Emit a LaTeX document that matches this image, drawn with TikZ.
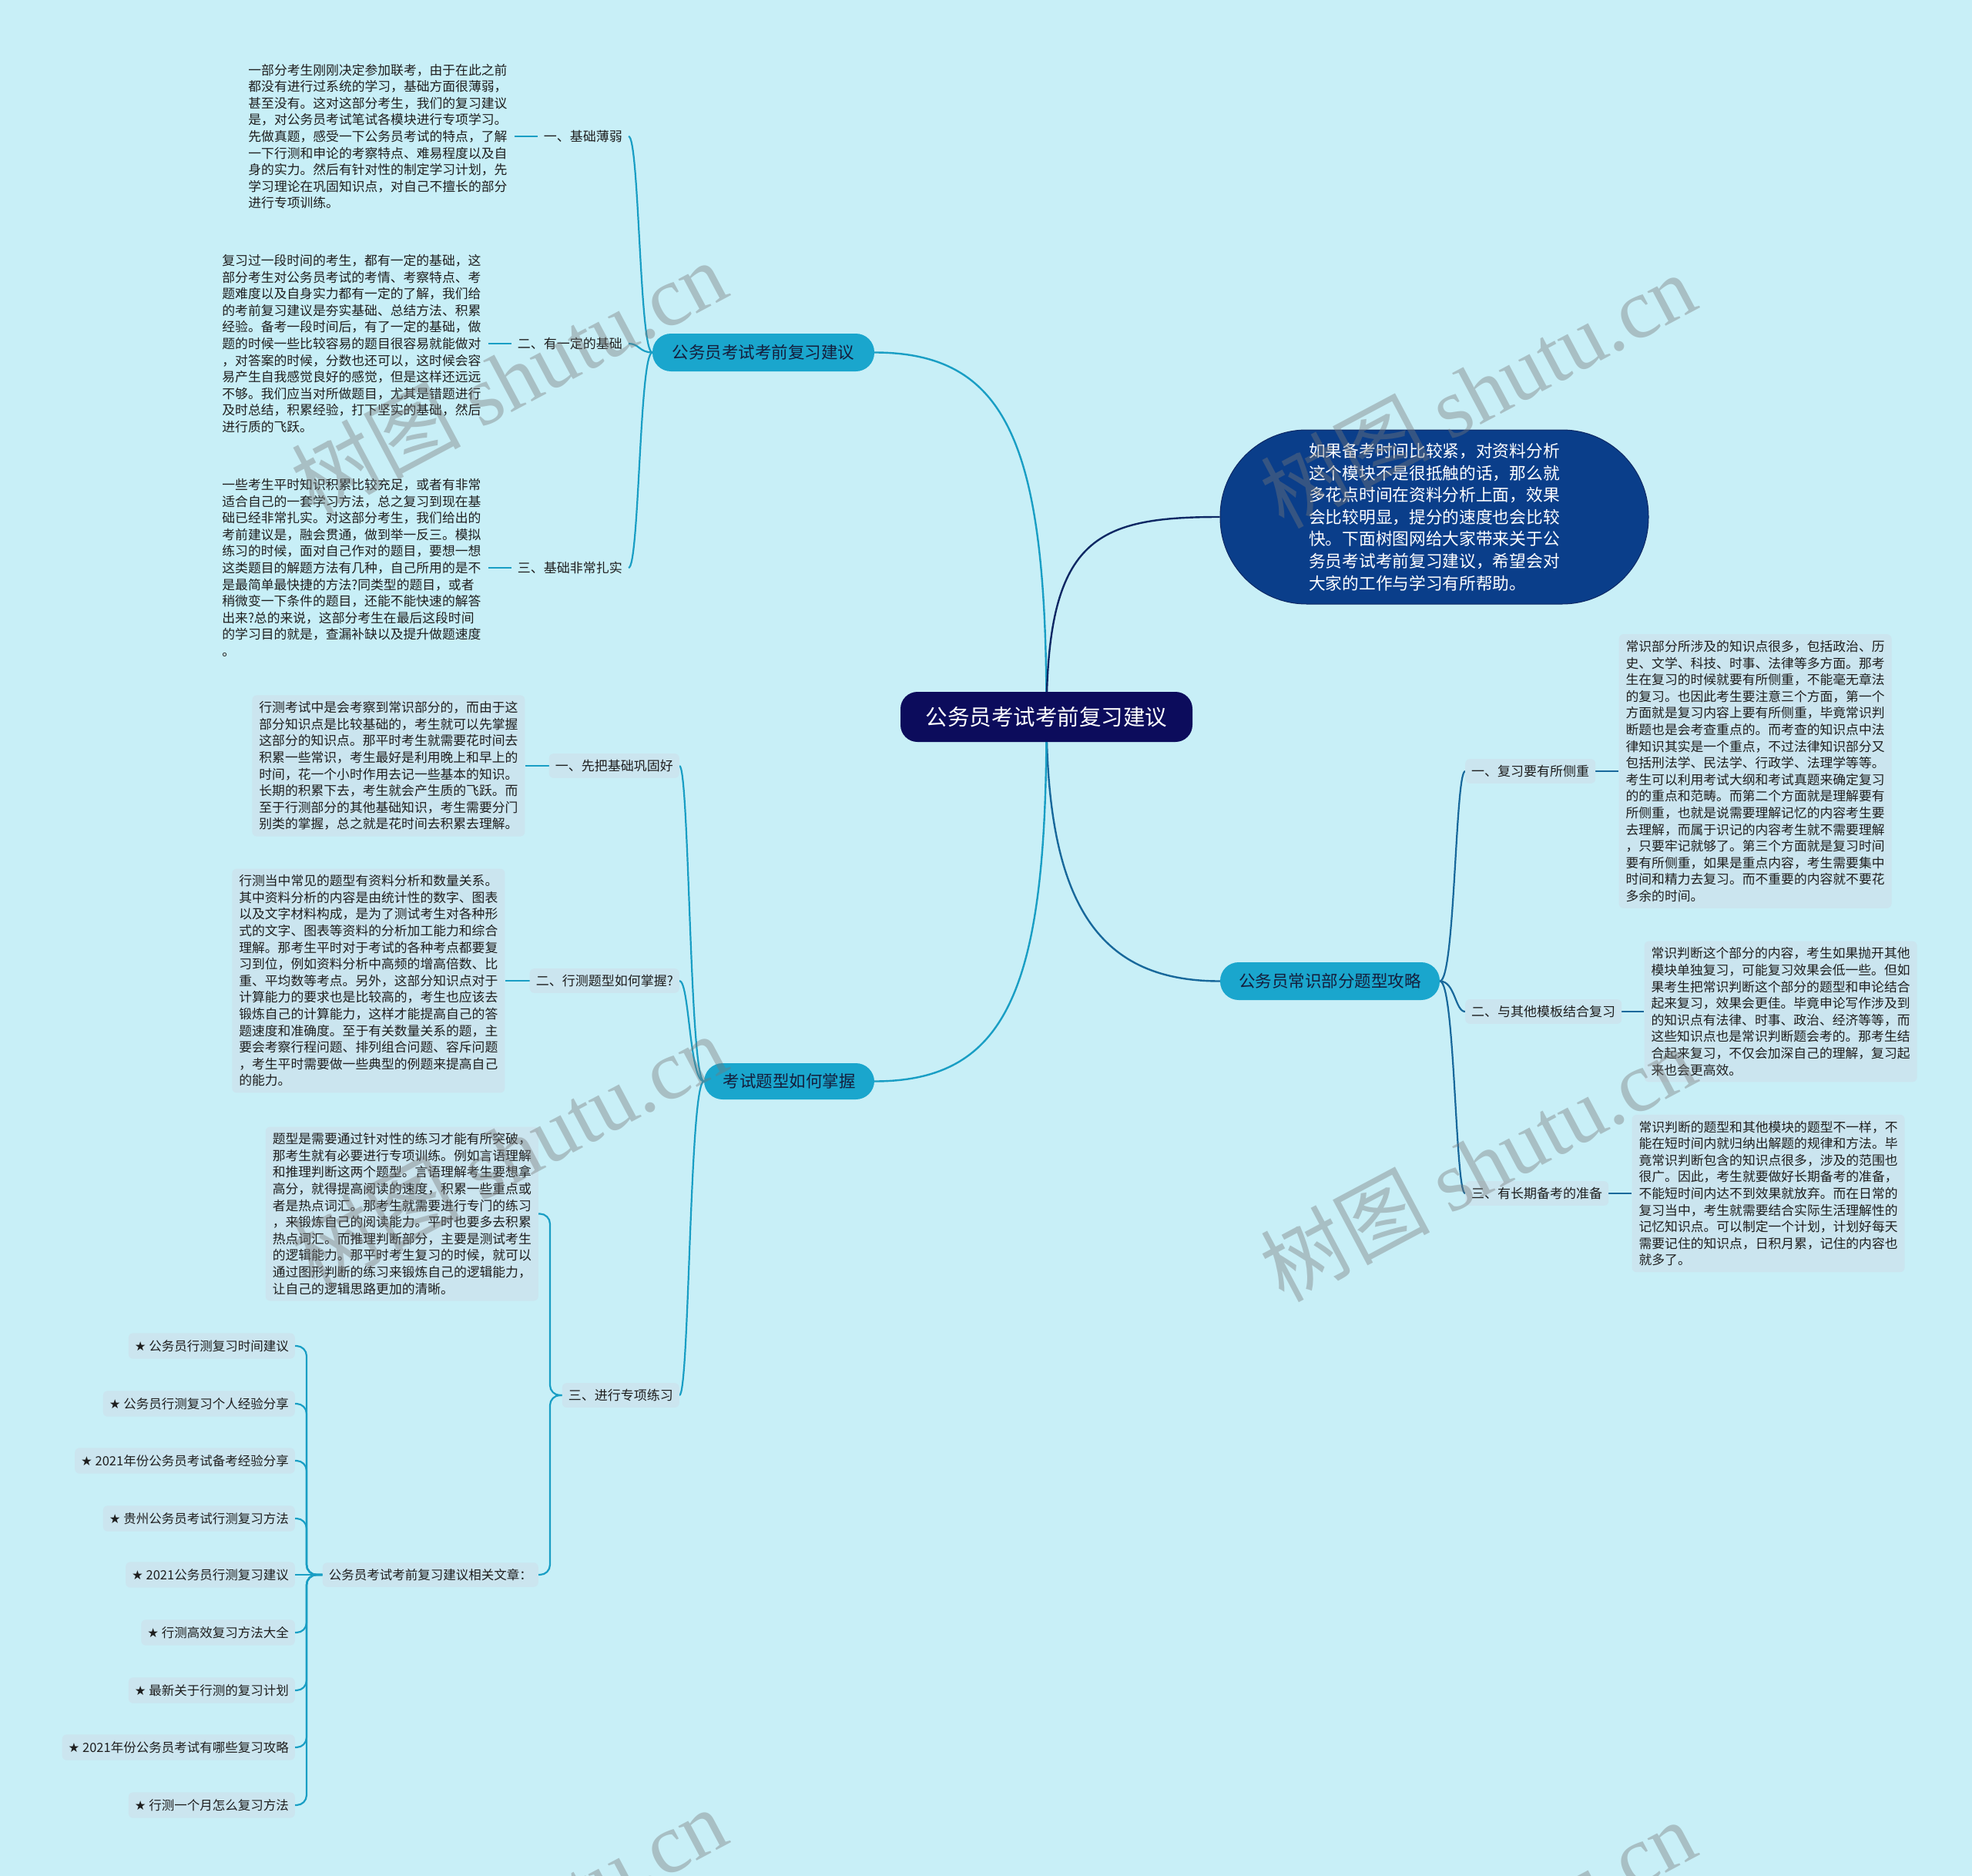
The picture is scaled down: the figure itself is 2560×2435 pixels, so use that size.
\documentclass[tikz,border=0pt]{standalone}
\usepackage{fontspec}
\setmainfont{Noto Sans CJK SC}
\newfontfamily\symfont{DejaVu Sans}
\newfontfamily\wmlatin{Liberation Serif}
\usetikzlibrary{calc}
\pgfdeclarelayer{bg}
\pgfdeclarelayer{edges}
\pgfdeclarelayer{wm}
\pgfsetlayers{bg,edges,main,wm}
\definecolor{bgc}{RGB}{200,239,247}
\definecolor{rootc}{RGB}{12,12,92}
\definecolor{tealc}{RGB}{26,166,205}
\definecolor{bubc}{RGB}{10,62,138}
\definecolor{boxc}{RGB}{203,229,239}
\definecolor{lnteal}{RGB}{25,158,196}
\definecolor{lnblue}{RGB}{24,104,155}
\definecolor{lnnavy}{RGB}{14,40,100}
\definecolor{txt}{RGB}{30,30,30}
\definecolor{brtxt}{RGB}{20,30,60}
\definecolor{wmc}{RGB}{120,120,120}
\tikzset{
 body/.style={font=\fontsize{16.8}{21.6}\selectfont, align=left, text=txt, inner xsep=9pt, inner ysep=8pt},
 boxed/.style={fill=boxc, rounded corners=6pt},
 lab/.style={font=\fontsize{17}{20}\selectfont, text=txt, inner xsep=8pt, inner ysep=8pt},
 item/.style={font=\fontsize{16.5}{20}\selectfont, text=txt, inner xsep=8pt, inner ysep=9pt, fill=boxc, rounded corners=6pt, anchor=east},
 rootbox/.style={fill=rootc, text=white, font=\fontsize{28.5}{30}\selectfont, rounded corners=22pt, minimum width=379pt, minimum height=65pt, inner sep=0pt},
 branch/.style={fill=tealc, text=brtxt, font=\fontsize{21.5}{24}\selectfont, rounded corners=24pt, minimum height=49pt, inner sep=0pt},
 bubble/.style={fill=bubc, draw=lnnavy, line width=1pt, text=white, font=\fontsize{21.7}{28.6}\selectfont, align=left, rounded corners=112pt, minimum width=556pt, minimum height=226pt, inner sep=0pt},
 ln/.style={draw=lnteal, line width=2.2pt},
 lnb/.style={draw=lnblue, line width=2.2pt},
 mainln/.style={line width=2.4pt},
 bracket/.style={ln, rounded corners=13pt},
 wmark/.style={text=wmc, opacity=0.4, font=\fontsize{110}{120}\selectfont, rotate=28}
}
\begin{document}
\begin{tikzpicture}[x=1pt,y=-1pt]
\useasboundingbox (0,0) rectangle (2560,2435);
\begin{pgfonlayer}{bg}
\fill[bgc] (0,0) rectangle (2560,2435);
\end{pgfonlayer}

% root and branches
\node[rootbox] (root) at (1358.5,930.5) {公务员考试考前复习建议};
\node[branch, minimum width=288pt] (b1) at (991,457.5) {公务员考试考前复习建议};
\node[branch, minimum width=221pt, minimum height=47pt] (b2) at (1024.5,1403.5) {考试题型如何掌握};
\node[branch, minimum width=285pt] (b3) at (1726.5,1273.5) {公务员常识部分题型攻略};
\node[bubble] (bub) at (1862,671) {如果备考时间比较紧，对资料分析\\这个模块不是很抵触的话，那么就\\多花点时间在资料分析上面，效果\\会比较明显，提分的速度也会比较\\快。下面树图网给大家带来关于公\\务员考试考前复习建议，希望会对\\大家的工作与学习有所帮助。};

% upper-left subtree
\node[lab, anchor=east] (l1) at (816,177) {一、基础薄弱};
\node[body, anchor=east] (t1) at ([xshift=-30pt]l1.west) {一部分考生刚刚决定参加联考，由于在此之前\\都没有进行过系统的学习，基础方面很薄弱，\\甚至没有。这对这部分考生，我们的复习建议\\是，对公务员考试笔试各模块进行专项学习。\\先做真题，感受一下公务员考试的特点，了解\\一下行测和申论的考察特点、难易程度以及自\\身的实力。然后有针对性的制定学习计划，先\\学习理论在巩固知识点，对自己不擅长的部分\\进行专项训练。};
\node[lab, anchor=east] (l2) at (816,446) {二、有一定的基础};
\node[body, anchor=east] (t2) at ([xshift=-30pt]l2.west) {复习过一段时间的考生，都有一定的基础，这\\部分考生对公务员考试的考情、考察特点、考\\题难度以及自身实力都有一定的了解，我们给\\的考前复习建议是夯实基础、总结方法、积累\\经验。备考一段时间后，有了一定的基础，做\\题的时候一些比较容易的题目很容易就能做对\\，对答案的时候，分数也还可以，这时候会容\\易产生自我感觉良好的感觉，但是这样还远远\\不够。我们应当对所做题目，尤其是错题进行\\及时总结，积累经验，打下坚实的基础，然后\\进行质的飞跃。};
\node[lab, anchor=east] (l3) at (816,737) {三、基础非常扎实};
\node[body, anchor=east] (t3) at ([xshift=-30pt]l3.west) {一些考生平时知识积累比较充足，或者有非常\\适合自己的一套学习方法，总之复习到现在基\\础已经非常扎实。对这部分考生，我们给出的\\考前建议是，融会贯通，做到举一反三。模拟\\练习的时候，面对自己作对的题目，要想一想\\这类题目的解题方法有几种，自己所用的是不\\是最简单最快捷的方法?同类型的题目，或者\\稍微变一下条件的题目，还能不能快速的解答\\出来?总的来说，这部分考生在最后这段时间\\的学习目的就是，查漏补缺以及提升做题速度\\。};

% lower-left subtree
\node[lab, boxed, anchor=east] (m1) at (882,994) {一、先把基础巩固好};
\node[body, boxed, anchor=east] (u1) at ([xshift=-31pt]m1.west) {行测考试中是会考察到常识部分的，而由于这\\部分知识点是比较基础的，考生就可以先掌握\\这部分的知识点。那平时考生就需要花时间去\\积累一些常识，考生最好是利用晚上和早上的\\时间，花一个小时作用去记一些基本的知识。\\长期的积累下去，考生就会产生质的飞跃。而\\至于行测部分的其他基础知识，考生需要分门\\别类的掌握，总之就是花时间去积累去理解。};
\node[lab, boxed, anchor=east] (m2) at (882,1273) {二、行测题型如何掌握?};
\node[body, boxed, anchor=east] (u2) at ([xshift=-32pt]m2.west) {行测当中常见的题型有资料分析和数量关系。\\其中资料分析的内容是由统计性的数字、图表\\以及文字材料构成，是为了测试考生对各种形\\式的文字、图表等资料的分析加工能力和综合\\理解。那考生平时对于考试的各种考点都要复\\习到位，例如资料分析中高频的增高倍数、比\\重、平均数等考点。另外，这部分知识点对于\\计算能力的要求也是比较高的，考生也应该去\\锻炼自己的计算能力，这样才能提高自己的答\\题速度和准确度。至于有关数量关系的题，主\\要会考察行程问题、排列组合问题、容斥问题\\，考生平时需要做一些典型的例题来提高自己\\的能力。};
\node[lab, boxed, anchor=east] (m3) at (882,1811) {三、进行专项练习};
\node[body, boxed, anchor=east] (u3) at (699,1575.5) {题型是需要通过针对性的练习才能有所突破，\\那考生就有必要进行专项训练。例如言语理解\\和推理判断这两个题型。言语理解考生要想拿\\高分，就得提高阅读的速度，积累一些重点或\\者是热点词汇。那考生就需要进行专门的练习\\，来锻炼自己的阅读能力。平时也要多去积累\\热点词汇。而推理判断部分，主要是测试考生\\的逻辑能力。那平时考生复习的时候，就可以\\通过图形判断的练习来锻炼自己的逻辑能力，\\让自己的逻辑思路更加的清晰。};
\node[lab, boxed, anchor=east, font=\fontsize{16.5}{20}\selectfont] (r0) at (699,2044) {公务员考试考前复习建议相关文章：};
\node[item] (s1) at (383,1747) {{\symfont ★} 公务员行测复习时间建议};
\node[item] (s2) at (383,1822) {{\symfont ★} 公务员行测复习个人经验分享};
\node[item] (s3) at (383,1896) {{\symfont ★} 2021年份公务员考试备考经验分享};
\node[item] (s4) at (383,1971) {{\symfont ★} 贵州公务员考试行测复习方法};
\node[item] (s5) at (383,2044) {{\symfont ★} 2021公务员行测复习建议};
\node[item] (s6) at (383,2119) {{\symfont ★} 行测高效复习方法大全};
\node[item] (s7) at (383,2194) {{\symfont ★} 最新关于行测的复习计划};
\node[item] (s8) at (383,2268) {{\symfont ★} 2021年份公务员考试有哪些复习攻略};
\node[item] (s9) at (383,2343) {{\symfont ★} 行测一个月怎么复习方法};

% right subtree
\node[lab, boxed, anchor=west] (n1) at (1902,1001) {一、复习要有所侧重};
\node[body, boxed, anchor=west] (v1) at ([xshift=30pt]n1.east) {常识部分所涉及的知识点很多，包括政治、历\\史、文学、科技、时事、法律等多方面。那考\\生在复习的时候就要有所侧重，不能毫无章法\\的复习。也因此考生要注意三个方面，第一个\\方面就是复习内容上要有所侧重，毕竟常识判\\断题也是会考查重点的。而考查的知识点中法\\律知识其实是一个重点，不过法律知识部分又\\包括刑法学、民法学、行政学、法理学等等。\\考生可以利用考试大纲和考试真题来确定复习\\的的重点和范畴。而第二个方面就是理解要有\\所侧重，也就是说需要理解记忆的内容考生要\\去理解，而属于识记的内容考生就不需要理解\\，只要牢记就够了。第三个方面就是复习时间\\要有所侧重，如果是重点内容，考生需要集中\\时间和精力去复习。而不重要的内容就不要花\\多余的时间。};
\node[lab, boxed, anchor=west] (n2) at (1902,1313) {二、与其他模板结合复习};
\node[body, boxed, anchor=west] (v2) at ([xshift=29pt]n2.east) {常识判断这个部分的内容，考生如果抛开其他\\模块单独复习，可能复习效果会低一些。但如\\果考生把常识判断这个部分的题型和申论结合\\起来复习，效果会更佳。毕竟申论写作涉及到\\的知识点有法律、时事、政治、经济等等，而\\这些知识点也是常识判断题会考的。那考生结\\合起来复习，不仅会加深自己的理解，复习起\\来也会更高效。};
\node[lab, boxed, anchor=west] (n3) at (1902,1549) {三、有长期备考的准备};
\node[body, boxed, anchor=west] (v3) at ([xshift=30pt]n3.east) {常识判断的题型和其他模块的题型不一样，不\\能在短时间内就归纳出解题的规律和方法。毕\\竟常识判断包含的知识点很多，涉及的范围也\\很广。因此，考生就要做好长期备考的准备，\\不能短时间内达不到效果就放弃。而在日常的\\复习当中，考生就需要结合实际生活理解性的\\记忆知识点。可以制定一个计划，计划好每天\\需要记住的知识点，日积月累，记住的内容也\\就多了。};

% trunk x positions
\coordinate (tx1) at (830,0);
\coordinate (tx2) at (895,0);
\coordinate (tx3) at (714,0);
\coordinate (tx4) at (398,0);
\coordinate (tx5) at (1889,0);

\begin{pgfonlayer}{edges}
% root connectors
\draw[mainln, draw=lnteal] (root.center) .. controls (1359,580) and (1310,457.5) .. (b1.east);
\draw[mainln, draw=lnnavy] (root.center) .. controls (1359,700) and (1420,671) .. (bub.west);
\draw[mainln, draw=lnblue] (root.center) .. controls (1359,1180) and (1430,1273.5) .. (b3.west);
\draw[mainln, draw=lnteal] (root.center) .. controls (1359,1280) and (1310,1403.5) .. (b2.east);
% upper-left
\foreach \c in {l1,l2,l3}{
  \draw[ln] (b1.west) .. controls (b1.west -| tx1) and (\c.east -| tx1) .. (\c.east);
}
\draw[ln] (t1.east) -- (l1.west);
\draw[ln] (t2.east) -- (l2.west);
\draw[ln] (t3.east) -- (l3.west);
% lower-left
\foreach \c in {m1,m2,m3}{
  \draw[ln] (b2.west) .. controls (b2.west -| tx2) and (\c.east -| tx2) .. (\c.east);
}
\draw[ln] (u1.east) -- (m1.west);
\draw[ln] (u2.east) -- (m2.west);
\foreach \c in {u3,r0}{
  \draw[bracket] (m3.west) -- (m3.west -| tx3) -- (\c.east -| tx3) -- (\c.east);
}
\foreach \c in {s1,s2,s3,s4,s6,s7,s8,s9}{
  \draw[bracket] (r0.west) -- (r0.west -| tx4) -- (\c.east -| tx4) -- (\c.east);
}
\draw[ln] (r0.west) -- (s5.east);
% right
\foreach \c in {n1,n2,n3}{
  \draw[lnb] (b3.east) .. controls (b3.east -| tx5) and (\c.west -| tx5) .. (\c.west);
}
\draw[lnb] (n1.east) -- (v1.west);
\draw[lnb] (n2.east) -- (v2.west);
\draw[lnb] (n3.east) -- (v3.west);
\end{pgfonlayer}

% watermarks
\begin{pgfonlayer}{wm}
\node[wmark] (w1) at (660,490) {树图 {\wmlatin shutu.cn}};
\node[wmark] (w2) at (1918,506) {树图 {\wmlatin shutu.cn}};
\node[wmark] (w3) at (660,1494) {树图 {\wmlatin shutu.cn}};
\node[wmark] (w4) at (1918,1510) {树图 {\wmlatin shutu.cn}};
\node[wmark] (w5) at (660,2498) {树图 {\wmlatin shutu.cn}};
\node[wmark] (w6) at (1918,2514) {树图 {\wmlatin shutu.cn}};
\end{pgfonlayer}
\end{tikzpicture}
\end{document}
